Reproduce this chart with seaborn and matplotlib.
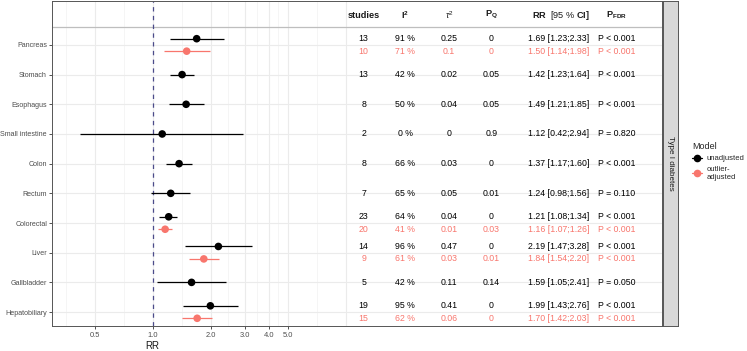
import numpy as np
import pandas as pd
import matplotlib
matplotlib.use("Agg")
import matplotlib.pyplot as plt
import matplotlib.transforms as mtrans
from matplotlib.lines import Line2D
from matplotlib.ticker import NullLocator
import seaborn as sns

# ---------------- data ----------------
categories = ["Pancreas", "Stomach", "Esophagus", "Small intestine", "Colon",
              "Rectum", "Colorectal", "Liver", "Gallbladder", "Hepatobiliary"]

row_category = ["Pancreas", "Pancreas", "Stomach", "Esophagus", "Small intestine",
                "Colon", "Rectum", "Colorectal", "Colorectal", "Liver", "Liver",
                "Gallbladder", "Hepatobiliary", "Hepatobiliary"]
row_model = ["unadjusted", "outlier-adjusted", "unadjusted", "unadjusted", "unadjusted",
             "unadjusted", "unadjusted", "unadjusted", "outlier-adjusted", "unadjusted",
             "outlier-adjusted", "unadjusted", "unadjusted", "outlier-adjusted"]
studies = [13, 10, 13, 8, 2, 8, 7, 23, 20, 14, 9, 5, 19, 15]
i2 = ["91 %", "71 %", "42 %", "50 %", "0 %", "66 %", "65 %", "64 %", "41 %", "96 %",
      "61 %", "42 %", "95 %", "62 %"]
tau2 = ["0.25", "0.1", "0.02", "0.04", "0", "0.03", "0.05", "0.04", "0.01", "0.47",
        "0.03", "0.11", "0.41", "0.06"]
pq = ["0", "0", "0.05", "0.05", "0.9", "0", "0.01", "0", "0.03", "0", "0.01", "0.14",
      "0", "0"]
rr = [1.69, 1.50, 1.42, 1.49, 1.12, 1.37, 1.24, 1.21, 1.16, 2.19, 1.84, 1.59, 1.99, 1.70]
rr_lo = [1.23, 1.14, 1.23, 1.21, 0.42, 1.17, 0.98, 1.08, 1.07, 1.47, 1.54, 1.05, 1.43, 1.42]
rr_hi = [2.33, 1.98, 1.64, 1.85, 2.94, 1.60, 1.56, 1.34, 1.26, 3.28, 2.20, 2.41, 2.76, 2.03]
p_fdr = ["P < 0.001", "P < 0.001", "P < 0.001", "P < 0.001", "P = 0.820", "P < 0.001",
         "P = 0.110", "P < 0.001", "P < 0.001", "P < 0.001", "P < 0.001", "P = 0.050",
         "P < 0.001", "P < 0.001"]

models = ["unadjusted", "outlier-adjusted"]
model_colors = {"unadjusted": "#000000", "outlier-adjusted": "#F8766D"}
x_breaks = [0.5, 1, 2, 3, 4, 5]
x_labels = ["0.5", "1.0", "2.0", "3.0", "4.0", "5.0"]
strip_label = "Type I diabetes"

# ---------------- frame ----------------
df = pd.DataFrame(dict(category=row_category, model=row_model, k=studies, i2=i2,
                       tau2=tau2, pq=pq, rr=rr, lo=rr_lo, hi=rr_hi, pfdr=p_fdr))
cat_index = {c: i for i, c in enumerate(categories)}
n_in_cat = df.groupby("category")["model"].transform("count")
dodge = 0.21
offset = np.where(n_in_cat > 1,
                  np.where(df["model"] == "unadjusted", -dodge, dodge), 0.0)
df["y"] = df["category"].map(cat_index).astype(float) + offset

# ---------------- style ----------------
sns.set_theme(style="white")
plt.rcParams["font.family"] = ["Liberation Sans", "DejaVu Sans"]
plt.rcParams["mathtext.fontset"] = "custom"
plt.rcParams["mathtext.rm"] = "Liberation Sans"
plt.rcParams["mathtext.it"] = "Liberation Sans:italic"
plt.rcParams["mathtext.bf"] = "Liberation Sans:bold"

W, H = 747, 351
fig = plt.figure(figsize=(W / 100, H / 100), dpi=100)
pl, pr, pt, pb = 52, 662, 1, 326
ax = fig.add_axes([pl / W, 1 - pb / H, (pr - pl) / W, (pb - pt) / H])

ax.set_xscale("log")
xmin = np.exp((pl - 152.7) / 83.8)
xmax = np.exp((pr - 152.7) / 83.8)
ax.set_xlim(xmin, xmax)
ax.set_ylim(9.47, -1.48)

# grid
grid_major = [0.5, 1, 2, 3, 4, 5, 10]
grid_minor = [np.sqrt(0.5 * 0.25), np.sqrt(0.5), np.sqrt(2), np.sqrt(6), np.sqrt(12),
              np.sqrt(20), np.sqrt(50)]
for g in grid_major:
    ax.axvline(g, color="#EBEBEB", lw=0.8, zorder=0)
for g in grid_minor:
    ax.axvline(g, color="#F2F2F2", lw=0.5, zorder=0)
for i in range(len(categories)):
    ax.axhline(i, color="#EBEBEB", lw=0.8, zorder=0)
ax.axhline(-0.6, color="#BEBEBE", lw=0.9, zorder=0.5)

# reference line
ax.axvline(1, color="#4B4B8A", lw=0.9, linestyle=(0, (3.5, 3.5)), zorder=1)

# error bars and points
for m in models:
    sub = df[df["model"] == m]
    ax.hlines(sub["y"], sub["lo"], sub["hi"], color=model_colors[m], lw=0.9, zorder=2)
sns.scatterplot(data=df, x="rr", y="y", hue="model", palette=model_colors,
                hue_order=models, s=30, linewidth=0, ax=ax, legend=False, zorder=3)

# table
tr = mtrans.blended_transform_factory(ax.transAxes, ax.transData)
col_x = dict(k=0.511, i2=0.579, tau2=0.651, pq=0.720, rr=0.831, pfdr=0.926)
fs = 6.3
for _, r in df.iterrows():
    c = model_colors[r["model"]]
    ax.text(col_x["k"], r["y"], str(r["k"]), transform=tr, ha="center", va="center",
            fontsize=fs, color=c)
    ax.text(col_x["i2"], r["y"], r["i2"], transform=tr, ha="center", va="center",
            fontsize=fs, color=c)
    ax.text(col_x["tau2"], r["y"], r["tau2"], transform=tr, ha="center", va="center",
            fontsize=fs, color=c)
    ax.text(col_x["pq"], r["y"], r["pq"], transform=tr, ha="center", va="center",
            fontsize=fs, color=c)
    ax.text(col_x["rr"], r["y"], f"{r['rr']:.2f} [{r['lo']:.2f};{r['hi']:.2f}]",
            transform=tr, ha="center", va="center", fontsize=fs, color=c)
    ax.text(col_x["pfdr"], r["y"], r["pfdr"], transform=tr, ha="center", va="center",
            fontsize=fs, color=c)

hy = -1.0
hfs = 6.6
ax.text(col_x["k"], hy, "studies", transform=tr, ha="center", va="center",
        fontsize=hfs, fontweight="bold", color="#1A1A1A")
ax.text(col_x["i2"], hy, r"$\mathbf{I^2}$", transform=tr, ha="center", va="center",
        fontsize=hfs, color="#1A1A1A")
ax.text(col_x["tau2"], hy, r"$\tau^2$", transform=tr, ha="center", va="center",
        fontsize=hfs, color="#1A1A1A")
ax.text(col_x["pq"], hy, r"$\mathbf{P_Q}$", transform=tr, ha="center", va="center",
        fontsize=hfs, color="#1A1A1A")
ax.text(col_x["rr"] + 0.004, hy, r"$\mathbf{RR}$  [95 % $\mathbf{CI]}$", transform=tr,
        ha="center", va="center", fontsize=hfs, color="#1A1A1A")
ax.text(col_x["pfdr"], hy, r"$\mathbf{P_{FDR}}$", transform=tr, ha="center",
        va="center", fontsize=hfs, color="#1A1A1A")

# axes
ax.set_yticks(range(len(categories)))
ax.set_yticklabels(categories)
ax.set_xticks(x_breaks)
ax.set_xticklabels(x_labels)
ax.xaxis.set_minor_locator(NullLocator())
ax.tick_params(axis="both", which="major", length=2.5, width=0.6, color="#333333",
               labelcolor="#4D4D4D")
ax.tick_params(axis="x", bottom=True, pad=2, labelsize=5.4)
ax.tick_params(axis="y", left=True, pad=1.1, labelsize=5.1)
ax.set_ylabel("")
ax.set_xlabel("RR", fontsize=7, color="#1A1A1A", labelpad=1.5,
              x=(152.7 - pl) / (pr - pl))
for s in ax.spines.values():
    s.set_color("#555555")
    s.set_linewidth(0.7)
    s.set_visible(True)

# strip
sax = fig.add_axes([663 / W, 1 - pb / H, 15 / W, (pb - pt) / H])
sax.set_facecolor("#D9D9D9")
sax.set_xticks([])
sax.set_yticks([])
for s in sax.spines.values():
    s.set_color("#555555")
    s.set_linewidth(0.7)
    s.set_visible(True)
sax.text(0.5, 0.5, strip_label, rotation=-90, ha="center", va="center",
         fontsize=5.8, color="#1A1A1A", transform=sax.transAxes)

# legend
handles = [Line2D([0], [0], color=model_colors[m], marker="o", markersize=5.5,
                  lw=0.9, markeredgewidth=0) for m in models]
leg = fig.legend(handles, ["unadjusted", "outlier-\nadjusted"], title="Model",
                 loc="upper left", bbox_to_anchor=(689 / W, 1 - 139 / H),
                 frameon=False, fontsize=5.5, title_fontsize=6.5, handlelength=1.3,
                 handletextpad=0.6, labelspacing=0.5, borderaxespad=0)
leg._legend_box.align = "left"

fig.savefig("out.png", dpi=100)
